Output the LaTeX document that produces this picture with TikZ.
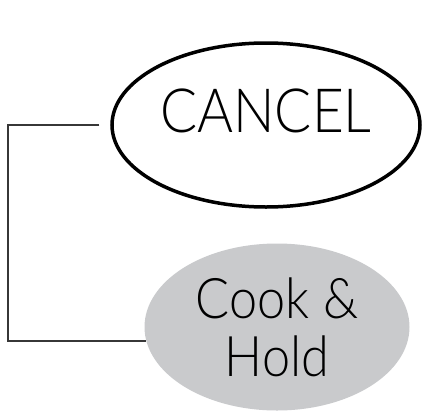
\documentclass[tikz,border=0pt]{standalone}
\usepackage{fontspec}
\setmainfont{Lato}[UprightFont=* Light]
\newfontfamily\statefont{Lato}[UprightFont=* Light,FakeStretch=0.9]
\usetikzlibrary{shapes.geometric}
\definecolor{holdgray}{RGB}{201,202,204}
\definecolor{linkgray}{RGB}{55,55,55}

\begin{document}
\begin{tikzpicture}[line cap=butt,line join=miter,x=1pt,y=1pt,
  state/.style={ellipse,inner sep=0pt,align=center},
  link/.style={draw=linkgray,line width=1.8pt}]
\useasboundingbox (0,0) rectangle (426,-413);
\node [state,draw,line width=3.5pt,minimum width=308,minimum height=164,
  font=\statefont\fontsize{61}{66}\selectfont] (cancel) at (266,-125) {\raisebox{-7pt}[0pt][0pt]{CANCEL}};
\node [state,fill=holdgray,minimum width=265,minimum height=167,
  font=\statefont\fontsize{56}{58}\selectfont] (hold) at (277,-327) {Cook \&\\Hold};
\draw [link] ([xshift=-11pt]cancel.west) -- ++(-91,0) |- (hold.186);
\end{tikzpicture}
\end{document}
